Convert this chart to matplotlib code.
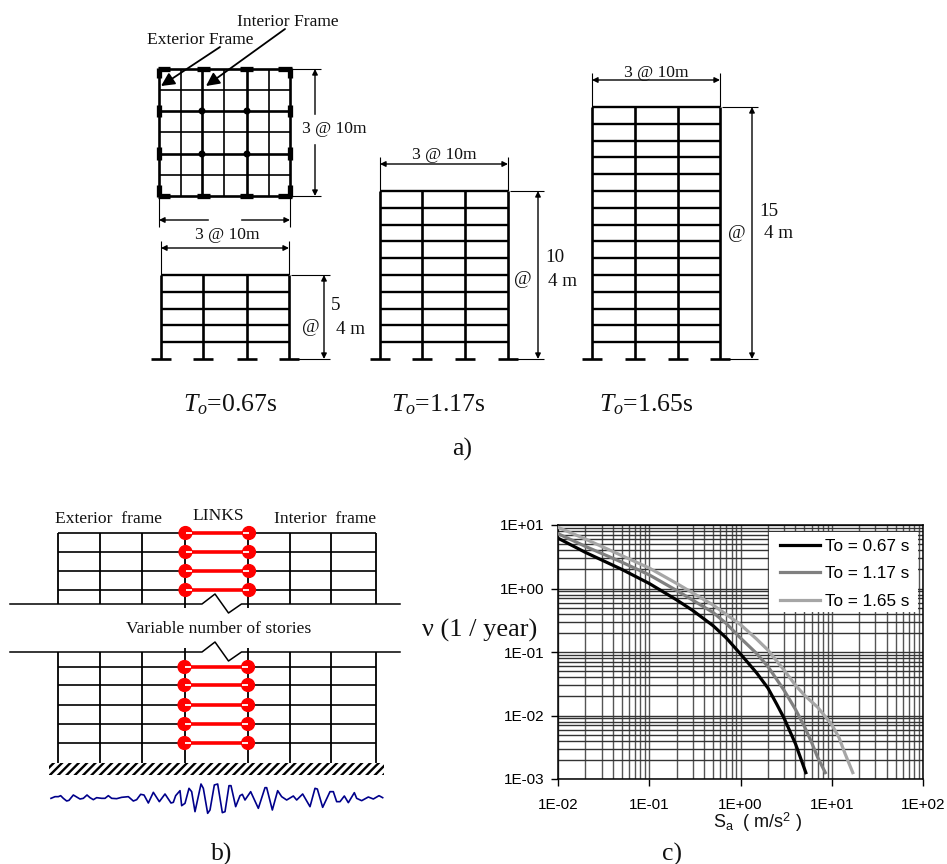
import matplotlib
matplotlib.use('Agg')
import matplotlib.pyplot as plt
import matplotlib.ticker as mticker
import numpy as np
from matplotlib.patches import Circle, Rectangle

plt.rcParams['font.family'] = ['Liberation Serif', 'DejaVu Serif']
plt.rcParams['mathtext.fontset'] = 'custom'
plt.rcParams['mathtext.rm'] = 'Liberation Serif'
plt.rcParams['mathtext.it'] = 'Liberation Serif:italic'
plt.rcParams['mathtext.sf'] = 'Liberation Sans'
plt.rcParams['hatch.linewidth'] = 1.7

W, H = 947, 864

# Hazard curves, panel c
sa_067 = [0.01, 0.02, 0.05, 0.1, 0.2, 0.3, 0.5, 0.7, 1, 1.5, 2, 2.5, 3, 4, 5.2]
nu_067 = [6.2, 3.7, 2.0, 1.2, 0.66, 0.45, 0.26, 0.166, 0.093, 0.047, 0.027, 0.015, 0.0091, 0.0036, 0.00126]
sa_117 = [0.01, 0.02, 0.05, 0.1, 0.2, 0.5, 0.7, 1, 1.5, 2, 3, 4, 5, 6, 7, 8.5]
nu_117 = [7.3, 4.6, 2.6, 1.64, 0.93, 0.42, 0.28, 0.166, 0.095, 0.059, 0.025, 0.0125, 0.0068, 0.0038, 0.0022, 0.00126]
sa_165 = [0.01, 0.02, 0.05, 0.1, 0.2, 0.5, 0.7, 1, 1.5, 2, 3, 4, 5, 7, 10, 12, 14, 17]
nu_165 = [9.2, 6.0, 3.3, 2.1, 1.2, 0.55, 0.39, 0.27, 0.16, 0.107, 0.052, 0.030, 0.021, 0.0135, 0.0072, 0.0045, 0.0025, 0.00126]
curve_labels = ['To = 0.67 s', 'To = 1.17 s', 'To = 1.65 s']
curve_colors = ['#000000', '#808080', '#a6a6a6']
decade_x = [0.01, 0.1, 1, 10, 100]
decade_y = [0.001, 0.01, 0.1, 1, 10]
decade_x_labels = ['1E-02', '1E-01', '1E+00', '1E+01', '1E+02']
decade_y_labels = ['1E-03', '1E-02', '1E-01', '1E+00', '1E+01']

wave1_x = [18, 30, 40, 47, 55, 65, 72, 85, 95, 105, 115, 126, 135, 145, 155, 170, 180, 190, 200, 215, 230, 250,
           265, 275, 287, 297, 310, 325, 343, 360, 378, 385, 392, 405, 410, 420, 432, 440, 450, 468, 475, 488,
           495, 508, 518]
wave1_y = [70, 65, 65, 62, 70, 78, 76, 60, 66, 72, 70, 60, 68, 74, 68, 70, 70, 62, 70, 71, 67, 65,
           78, 74, 58, 60, 84, 52, 80, 57, 84, 82, 62, 47, 92, 85, 40, 50, 110, 27, 40, 115,
           105, 30, 27]
wave2_x = [22, 30, 42, 48, 62, 75, 82, 90, 107, 130, 150, 155, 172, 188, 200, 215, 235, 245, 263, 285, 300, 307,
           323, 345, 355, 365, 375, 388, 400, 418, 425, 440, 460, 475, 492, 503]
wave2_y = [113, 110, 32, 32, 95, 62, 58, 75, 50, 100, 38, 38, 105, 47, 65, 75, 63, 75, 57, 95, 40, 42,
           97, 50, 50, 80, 80, 63, 83, 53, 70, 77, 66, 72, 62, 68]
wave_x = [45 + v / 3 for v in wave1_x] + [215 + v / 3 for v in wave2_x]
wave_y = [775 + v / 3 for v in wave1_y + wave2_y]

# Frames, panel a (picture pixels)
frame_cols = [[161, 203, 247, 289], [380, 422, 465, 508], [592, 635, 678, 720]]
frame_tops = [275, 191, 107]
frame_base = 359
frame_stories = [5, 10, 15]
frame_dim_gap = [35, 30, 32]
period_labels = ['=0.67s', '=1.17s', '=1.65s']
period_x = [183, 391, 599]

fig = plt.figure(figsize=(W / 100, H / 100), dpi=100)
ax = fig.add_axes([0, 0, 1, 1])
ax.set_xlim(0, W)
ax.set_ylim(H, 0)
ax.axis('off')


def line(xs, ys, lw=1.5, c='black', z=2):
    ax.plot(xs, ys, color=c, lw=lw, solid_capstyle='butt', zorder=z)


def dim(x0, y0, x1, y1):
    ax.annotate('', xy=(x1, y1), xytext=(x0, y0),
                arrowprops=dict(arrowstyle='<|-|>', mutation_scale=8, lw=1, color='black',
                                shrinkA=0, shrinkB=0))


def label(x, y, s, size=12.6, ha='center'):
    ax.text(x, y + 2, s, fontsize=size, ha=ha, va='center', color='#111111', zorder=4)


# Plan view
plan_thick_x = [159, 202, 247, 290]
plan_thin_x = [181, 224, 268.5]
plan_thick_y = [69, 111, 154, 196]
plan_thin_y = [90, 132, 175]
for x in plan_thick_x:
    line([x, x], [69, 196], 1.9)
for x in plan_thin_x:
    line([x, x], [69, 196], 1.2)
for y in plan_thick_y:
    line([159, 290], [y, y], 1.9)
for y in plan_thin_y:
    line([159, 290], [y, y], 1.2)
for x0, x1 in [(158, 170), (197, 210), (240, 253), (278, 292)]:
    line([x0, x1], [69, 69], 3.8)
    line([x0, x1], [196, 196], 3.8)
for y0, y1 in [(68, 78), (105, 117), (147, 160), (185, 197)]:
    line([159, 159], [y0, y1], 3.8)
    line([290, 290], [y0, y1], 3.8)
for x in [202, 247]:
    for y in [111, 154]:
        ax.add_patch(Circle((x, y), 2.8, color='black', zorder=3))

line([290, 321], [69, 69], 0.8)
line([290, 321], [196, 196], 0.8)
line([159, 159], [196, 227], 0.8)
line([290, 290], [196, 227], 0.8)
dim(315, 69, 315, 196)
dim(159, 220, 290, 220)
ax.add_patch(Rectangle((306, 115), 20, 28, color='white', zorder=3))
ax.add_patch(Rectangle((209, 214), 31, 12, color='white', zorder=3))
label(334, 127, '3 @ 10m')
label(227, 233, '3 @ 10m')

label(288, 20, 'Interior Frame')
label(200, 38, 'Exterior Frame')
for start, end in [((220, 47), (161, 86)), ((285, 29), (206, 86))]:
    ax.annotate('', xy=end, xytext=start,
                arrowprops=dict(arrowstyle='-|>', mutation_scale=20, lw=1.3, color='black',
                                shrinkA=0, shrinkB=0), zorder=5)

# Elevation frames
for cols, top, n, gap, plabel, px in zip(frame_cols, frame_tops, frame_stories, frame_dim_gap, period_labels, period_x):
    for x in cols:
        line([x, x], [top, frame_base], 1.9)
        line([x - 10, x + 10], [frame_base, frame_base], 1.9)
    for y in np.linspace(top, frame_base, n + 1)[:-1]:
        line([cols[0], cols[-1]], [y, y], 1.7)
    dy = top - 27
    line([cols[0], cols[0]], [top - 34, top], 0.8)
    line([cols[-1], cols[-1]], [top - 34, top], 0.8)
    dim(cols[0], dy, cols[-1], dy)
    xd = cols[-1] + gap
    line([cols[-1] + 2, xd + 6], [top, top], 0.8)
    line([cols[-1] + 2, xd + 6], [frame_base, frame_base], 0.8)
    dim(xd, top, xd, frame_base)
    ax.text(px, 405, r'$\mathit{T_o}$' + plabel, fontsize=18.5, ha='left', va='center', color='#111111')

label(444, 153, '3 @ 10m')
label(656, 71, '3 @ 10m')
for x, y, s in [(336, 304, '5'), (311, 326, '@'), (350, 327, '4 m'),
                (555, 256, '10'), (523, 278, '@'), (563, 279, '4 m'),
                (769, 210, '15'), (737, 231, '@'), (778, 231, '4 m')]:
    label(x, y, s, 13.8)
label(462, 447, 'a)', 18.5)

# Panel b frames
b_left = [58, 100, 142, 184.5]
b_right = [248, 290, 331, 376]
top_floors = [533, 552, 571, 590]
low_floors = [667, 685, 705, 724, 743]
for x in b_left + b_right:
    line([x, x], [533, 604], 1.3)
    line([x, x], [652, 763], 1.3)
for x in [184.5, 248]:
    line([x, x], [604, 608], 1.3)
    line([x, x], [648, 652], 1.3)
for y in top_floors + low_floors:
    line([58, 184.5], [y, y], 1.2)
    line([248, 376], [y, y], 1.2)
for y0 in [604, 652]:
    ax.plot([10, 202, 215, 228.5, 241.5, 247, 400], [y0, y0, y0 - 10, y0 + 9, y0, y0, y0],
            color='black', lw=1.1, zorder=2)

for ys, xl, xr in [(top_floors, 185.5, 249), (low_floors, 184.5, 248)]:
    for y in ys:
        line([xl, xr], [y, y], 2.6, 'red', 4)
        ax.add_patch(Circle((xl, y), 6.4, color='red', zorder=5))
        ax.add_patch(Circle((xr, y), 6.4, color='red', zorder=5))
        line([xl, xl + 6.5], [y, y], 1.3, 'white', 6)
        line([xr - 6.5, xr], [y, y], 1.3, 'white', 6)

ax.add_patch(Rectangle((49, 763), 335, 12, facecolor='white', edgecolor='black', hatch='////', lw=0, zorder=3))
ax.plot(wave_x, wave_y, color='#00008b', lw=1.2, zorder=3)

label(108.7, 517, 'Exterior  frame')
label(218, 514, 'LINKS')
label(325, 517, 'Interior  frame')
label(219, 627, 'Variable number of stories')
label(222, 852, 'b)', 18.5)
label(672, 852, 'c)', 18.5)
label(480, 628, 'ν (1 / year)', 19)

# Panel c
cx = fig.add_axes([558 / W, 1 - 779 / H, 365 / W, 254 / H])
cx.set_xscale('log')
cx.set_yscale('log')
for s, n, lab, col in zip([sa_067, sa_117, sa_165], [nu_067, nu_117, nu_165], curve_labels, curve_colors):
    cx.plot(s, n, color=col, lw=2.3, label=lab, zorder=3)
cx.set_xlim(0.01, 100)
cx.set_ylim(0.001, 10)
cx.set_xticks(decade_x, decade_x_labels, fontfamily='Liberation Sans', fontsize=11)
cx.set_yticks(decade_y, decade_y_labels, fontfamily='Liberation Sans', fontsize=11)
cx.tick_params(axis='x', which='major', length=5, width=1, pad=9)
cx.tick_params(axis='y', which='major', length=5, width=1, pad=5)
cx.tick_params(which='minor', length=0)
cx.xaxis.set_minor_locator(mticker.LogLocator(base=10, subs=range(2, 10), numticks=12))
cx.yaxis.set_minor_locator(mticker.LogLocator(base=10, subs=range(2, 10), numticks=12))
cx.xaxis.set_minor_formatter(mticker.NullFormatter())
cx.yaxis.set_minor_formatter(mticker.NullFormatter())
cx.grid(True, which='both', axis='x', color='#555555', lw=1.0)
cx.grid(True, which='both', axis='y', color='#333333', lw=1.0)
cx.set_axisbelow(True)
for sp in cx.spines.values():
    sp.set_linewidth(1.1)
cx.add_patch(Rectangle((211 / 365, 167 / 254), 149 / 365, 80 / 254, transform=cx.transAxes,
                       facecolor='white', edgecolor='none', zorder=4))
leg = cx.legend(loc='upper left', bbox_to_anchor=(222 / 365, 240 / 254), prop={'family': 'Liberation Sans', 'size': 12.3},
                frameon=False, borderaxespad=0, handlelength=2.35, handletextpad=0.3,
                labelspacing=0.72, borderpad=0)
leg.set_zorder(5)
ax.text(758, 828, r'S$_{\mathsf{a}}$  ( m/s$^{\mathsf{2}}$ )', fontfamily='Liberation Sans', fontsize=13,
        ha='center', va='baseline', color='#111111')

fig.savefig('out.png', dpi=100)
